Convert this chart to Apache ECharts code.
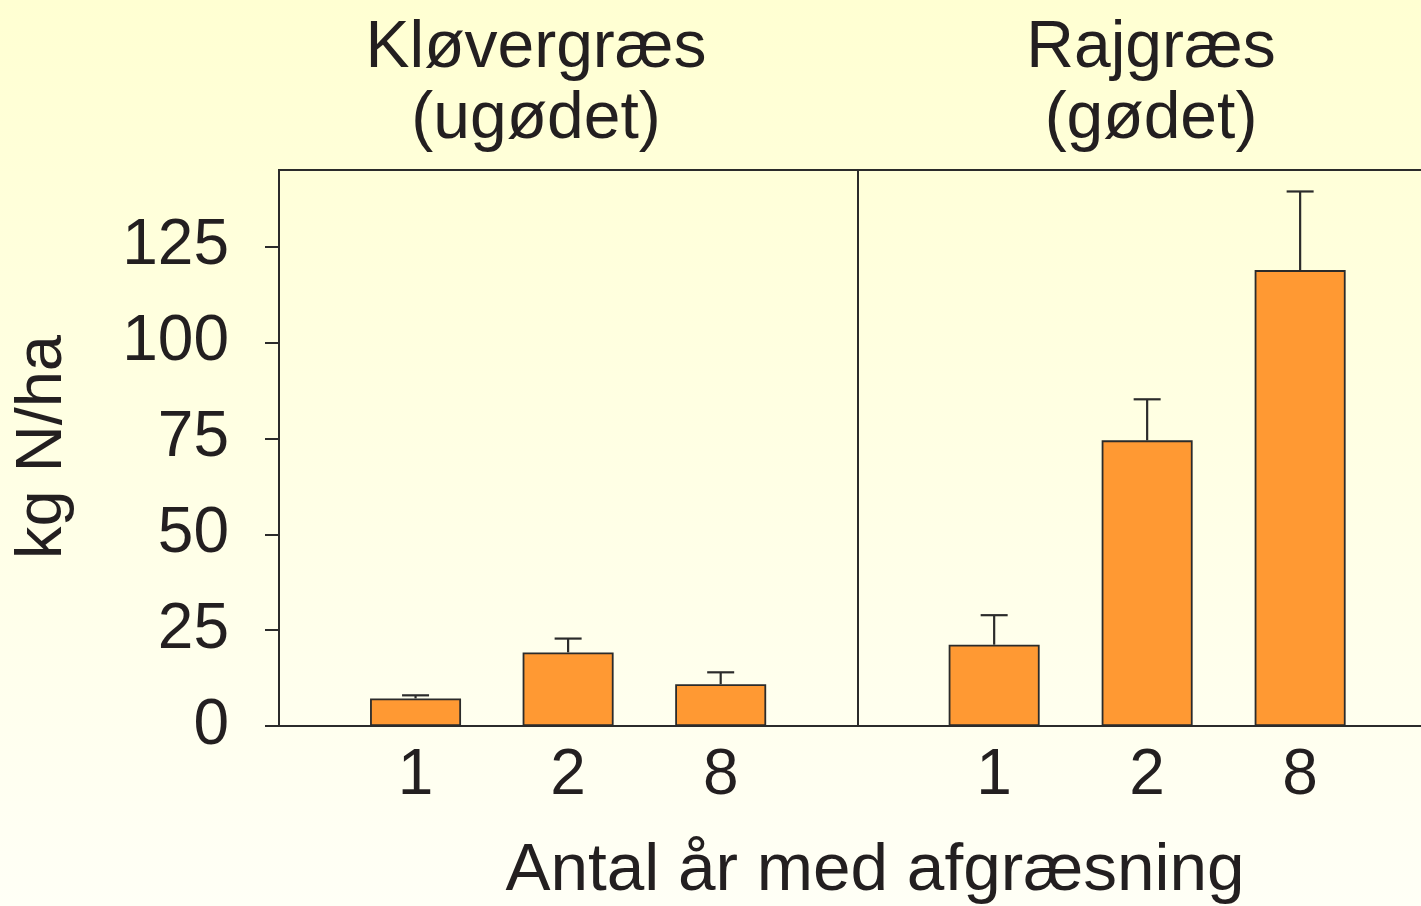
<!DOCTYPE html>
<html>
<head>
<meta charset="utf-8">
<script src="https://cdn.jsdelivr.net/npm/echarts@6/dist/echarts.min.js"></script>
<style>
html,body{margin:0;padding:0;}
#chart{width:1421px;height:906px;background:linear-gradient(to bottom,#FFFFD2 0%,#FFFFE4 50%,#FFFFF6 100%);}
</style>
</head>
<body>
<div id="chart"></div>
<script>
// ---- data ----
const panelTitles = ['Kløvergræs\n(ugødet)', 'Rajgræs\n(gødet)'];
const years = ['1', '2', '8'];
const kloverMean = [7.2, 19.2, 10.9];
const kloverSE = [0.8, 3.6, 3.1];
const rajMean = [21.2, 74.5, 118.9];
const rajSE = [7.7, 10.7, 20.5];
const yTicks = [0, 25, 50, 75, 100, 125];
const yTitle = 'kg N/ha';
const xTitle = 'Antal år med afgræsning';

const FONT = "'Liberation Sans', Arial, sans-serif";
const TXT = '#231F20';
const LINE = '#2b2b2b';
const BAR = '#FF9933';

const chart = echarts.init(document.getElementById('chart'), null, {renderer: 'canvas'});

const xPos = years.map((_, i) => i + 1);

function barData(means) { return means.map((v, i) => [xPos[i], v]); }
function errData(means, se) { return means.map((v, i) => [xPos[i], v, v + se[i]]); }

function errRender(params, api) {
  const x = api.value(0);
  const lo = api.coord([x, api.value(1)]);
  const hi = api.coord([x, api.value(2)]);
  const half = 13.5;
  const st = {stroke: LINE, lineWidth: 2.2};
  return {
    type: 'group',
    children: [
      {type: 'line', shape: {x1: lo[0], y1: lo[1], x2: hi[0], y2: hi[1]}, style: st},
      {type: 'line', shape: {x1: hi[0] - half, y1: hi[1], x2: hi[0] + half, y2: hi[1]}, style: st}
    ]
  };
}

function xAxisCfg(gridIndex, min, max) {
  return {
    type: 'value', gridIndex: gridIndex, min: min, max: max,
    splitLine: {show: false},
    axisLine: {show: true, lineStyle: {color: LINE, width: 2.2}},
    axisTick: {show: false},
    axisLabel: {
      show: true, customValues: xPos, margin: 18,
      fontFamily: FONT, fontSize: 64, color: TXT,
      formatter: v => years[Math.round(v) - 1] || ''
    }
  };
}

function yAxisCfg(gridIndex, show) {
  return {
    type: 'value', gridIndex: gridIndex, min: 0, max: 145,
    splitLine: {show: false},
    axisLine: {show: show, lineStyle: {color: LINE, width: 2}},
    axisTick: {show: show, customValues: yTicks, length: 14, lineStyle: {color: LINE, width: 2}},
    axisLabel: {show: show, customValues: yTicks, margin: 50, fontFamily: FONT, fontSize: 64, color: TXT}
  };
}

const option = {
  backgroundColor: 'transparent',
  animation: false,
  grid: [
    {left: 279, top: 170, width: 579, bottom: 180, show: true, borderColor: LINE, borderWidth: 2, backgroundColor: 'transparent'},
    {left: 858, top: 170, right: 0, bottom: 180, show: false}
  ],
  xAxis: [
    xAxisCfg(0, 0.105, 3.9),
    xAxisCfg(1, 0.11, 3.79),
    {type: 'value', gridIndex: 1, position: 'top', min: 0.11, max: 3.79,
     splitLine: {show: false}, axisTick: {show: false}, axisLabel: {show: false},
     axisLine: {show: true, lineStyle: {color: LINE, width: 2}}}
  ],
  yAxis: [yAxisCfg(0, true), yAxisCfg(1, false)],
  series: [
    {type: 'bar', xAxisIndex: 0, yAxisIndex: 0, data: barData(kloverMean), barWidth: 91,
     itemStyle: {color: BAR, borderColor: LINE, borderWidth: 1.8}},
    {type: 'bar', xAxisIndex: 1, yAxisIndex: 1, data: barData(rajMean), barWidth: 91,
     itemStyle: {color: BAR, borderColor: LINE, borderWidth: 1.8}},
    {type: 'custom', xAxisIndex: 0, yAxisIndex: 0, data: errData(kloverMean, kloverSE), renderItem: errRender, z: 3},
    {type: 'custom', xAxisIndex: 1, yAxisIndex: 1, data: errData(rajMean, rajSE), renderItem: errRender, z: 3}
  ],
  graphic: [
    {type: 'text', x: 536, y: 13, style: {text: panelTitles[0], font: "66px " + FONT, fill: TXT, align: 'center', verticalAlign: 'top', lineHeight: 71}},
    {type: 'text', x: 1151, y: 13, style: {text: panelTitles[1], font: "66px " + FONT, fill: TXT, align: 'center', verticalAlign: 'top', lineHeight: 71}},
    {type: 'text', x: 875, y: 871, style: {text: xTitle, font: "67.5px " + FONT, fill: TXT, align: 'center', verticalAlign: 'middle'}},
    {type: 'text', x: 43, y: 447, rotation: Math.PI / 2, style: {text: yTitle, font: "65px " + FONT, fill: TXT, align: 'center', verticalAlign: 'middle'}}
  ]
};

chart.setOption(option);
</script>
</body>
</html>
